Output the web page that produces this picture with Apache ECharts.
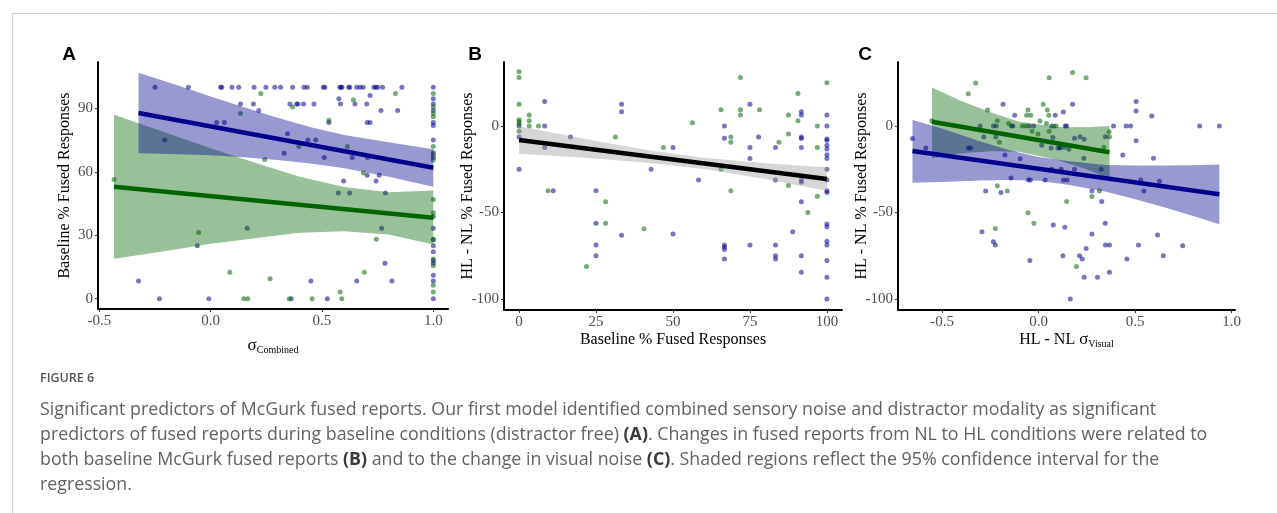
<!DOCTYPE html>
<html>
<head>
<meta charset="utf-8">
<script src="https://cdn.jsdelivr.net/npm/echarts@6/dist/echarts.min.js"></script>
<style>
  html, body { margin: 0; padding: 0; background: #fff; }
  #chart { width: 1277px; height: 513px; }
</style>
</head>
<body>
<div id="chart"></div>
<script>
// ---------- panel A : baseline % fused vs sigma combined ----------
const aBlue = [
  [-0.25,100],[-0.10,100],[0.045,100],[0.05,100],[0.096,100],[0.126,100],[0.195,100],[0.248,100],
  [0.288,100],[0.314,100],[0.368,100],[0.419,100],[0.434,100],[0.506,100],[0.513,100],[0.58,100],
  [0.585,100],[0.59,100],[0.62,100],[0.625,100],[0.656,100],[0.671,100],[0.685,100],[0.733,100],
  [0.742,100],[0.75,100],[0.772,100],[0.859,100],
  [0.134,92],[0.192,92],[0.356,92],[0.386,92],[0.392,92],[0.417,92],[0.464,92],[0.583,92],[0.648,92],[0.701,92],
  [0.216,89],[0.765,89],[0.84,89],[0.576,94.5],[0.716,96],
  [0.027,83.3],[0.062,83.3],[0.531,83.3],[0.703,83.3],[0.716,83.3],
  [-0.206,75],[0.345,78],[0.437,75],[0.472,75],
  [0.33,68.8],[0.51,66.7],[0.636,66.7],[0.705,66.7],
  [0.703,58.3],[0.757,58.3],[0.597,55.6],[0.743,55.6],
  [0.573,50],[0.624,50],[0.785,50],[0.164,33.3],[0.768,33.3],
  [-0.06,25],[0.783,16.7],[-0.324,8.3],[0.45,8.3],[0.656,8.3],[0.814,8.3],
  [-0.23,0],[-0.008,0],[0.362,0],[0.524,0],
  [1,100],[1,94.5],[1,92],[1,89],[1,83.3],[1,81.9],[1,75],[1,69],[1,66.7],[1,38.9],[1,33.3],
  [1,27.8],[1,25],[1,22.2],[1,18],[1,16.7],[1,11.1],[1,8.3],[1,0]
];
const aGreen = [
  [-0.434,56.3],[0.225,97],[0.134,87.5],[0.243,65.8],[-0.054,31.3],[0.086,12.5],[0.267,9.4],
  [0.149,0],[0.167,0],[0.83,97],[0.368,90.6],[0.641,94],[0.531,84.4],[0.396,71.9],[0.614,71.9],
  [0.686,59.4],[0.744,28.1],[0.69,12.5],[0.582,3.1],[0.353,0],[0.456,0],[0.589,0],
  [1,97],[1,90.6],[1,87.5],[1,86],[1,71.9],[1,68],[1,65.6],[1,46.9],[1,40.6],[1,28.1],
  [1,18.8],[1,15.6],[1,6.3],[1,3.1]
];
const aBlueFit = [[-0.324,87.8],[1.0,61.9]];
const aGreenFit = [[-0.434,52.9],[1.0,38.3]];
const aBlueBandX  = [-0.324,-0.15,0,0.15,0.3,0.45,0.6,0.8,1.0];
const aBlueBandHi = [106.8,100.9,95.6,90.5,85.5,81.0,77.4,73.9,70.6];
const aBlueBandLo = [68.8,68.3,67.8,66.9,65.6,63.9,61.6,57.6,52.9];
const aGreenBandX  = [-0.434,-0.2,0,0.2,0.4,0.6,0.8,1.0];
const aGreenBandHi = [86.9,78.5,71.1,64.2,57.6,52.8,50.3,51.1];
const aGreenBandLo = [18.9,22.5,25.9,28.6,31.2,31.9,30.3,25.6];

// ---------- panel B : change vs baseline ----------
const bBlue = [
  [0,0],[0,-6.3],[0,-25],[8.3,14.1],[8.3,0],[8.3,-12.5],[16.7,-6.3],[33.3,12.5],[33.3,8.3],
  [11.1,-37.5],[25,-37.5],[25,-56.3],[33.3,-63.2],[25,-68.8],[25,-75],[42.9,-25],[50,-12.5],[50,-62.5],
  [75,12.5],[91.7,8.3],[91.7,6.3],[66.7,0],[66.7,-7.1],[77.8,-6.3],[91.7,-6.3],[91.7,-7.3],
  [100,6.3],[100,0],[100,-7.5],[100,-8.3],[100,-11.1],[100,-13.3],[100,-16.7],[100,-18.8],
  [75,-12.5],[83.3,-12.5],[91.7,-12.5],[75,-18.8],[100,-25],[58.3,-31.3],[83.3,-31.3],[91.7,-31.3],
  [91.7,-32.5],[100,-31.3],[100,-37.5],[100,-38.5],[91.7,-43.8],[88.9,-61.1],[100,-56.7],[100,-58.3],
  [66.7,-68.8],[66.7,-70],[66.7,-71.4],[75,-68.8],[83.3,-68.8],[83.3,-75],[83.3,-76.9],[66.7,-76.9],
  [91.7,-75],[100,-66.7],[100,-68.8],[100,-77.8],[91.7,-84.6],[100,-87.5],[100,-100]
];
const bGreen = [
  [0,31.3],[0,28.1],[0,12.5],[0,3.6],[0,2.4],[0,1.2],[0,-3.1],[3.3,6.3],[3.3,3.1],[3.3,0],[6.3,0],
  [31.3,-6.3],[9.4,-37.5],[28.1,-43.8],[28.1,-56.3],[40.6,-59.4],[21.9,-81.3],[46.9,-12.5],
  [71.9,28.1],[100,25],[90.6,18.8],[65.6,9.4],[71.9,9.4],[78.1,9.4],[71.9,6.3],[87.5,6.3],[90.6,3.1],
  [56.3,1.9],[68.8,-6.3],[68.8,-9.4],[87.5,-4.7],[84.4,-9.4],[96.9,0],[96.9,-12.5],[65.6,-25],
  [68.8,-37.5],[87.5,-34.4],[96.9,-40.6],[93.8,-50]
];
const bFit = [[0,-8.1],[100,-30.6]];
const bBandX  = [0,20,40,60,80,100];
const bBandHi = [-0.2,-7.0,-13.4,-18.3,-21.5,-23.8];
const bBandLo = [-16.0,-18.2,-20.9,-24.9,-30.7,-37.4];

// ---------- panel C : change vs change in visual sigma ----------
const cBlue = [
  [-0.653,-7.3],[-0.584,-12.7],[-0.184,12.5],[-0.124,6.2],[0.086,6.2],[0.128,8.1],[-0.303,0],
  [-0.234,0],[-0.219,0],[-0.141,0],[-0.133,0],[-0.05,0],[-0.026,0],[0.067,0],[0.138,0],[0.145,0],
  [-0.284,-6.4],[-0.222,-6.4],[-0.364,-12.7],[-0.352,-12.7],[-0.174,-16.8],[-0.095,-18.9],
  [0.016,-11.2],[0.065,-12.7],[0.1,-12.7],[0.112,-12.7],[0.074,-6.7],[-0.143,-30.1],[-0.053,-31.2],
  [-0.043,-31.2],[0.034,-31.2],[-0.274,-37.6],[-0.195,-38.5],[0.076,-57.2],[0.136,-58.6],
  [-0.293,-61.1],[-0.234,-66.9],[-0.224,-68.8],[0.126,-75],[-0.045,-77.8],[0.164,-100],
  [0.834,0],[0.936,0],[0.453,0],[0.476,0],[0.388,0],[0.586,5.8],[0.505,14.1],[0.505,8.7],
  [0.505,-8.5],[0.436,-16.8],[0.595,-18.7],[0.529,-31.2],[0.545,-37.6],[0.626,-32],[0.616,-63],
  [0.646,-75],[0.746,-69.2],[0.457,-76.9],[0.517,-68.8],[0.346,-68.8],[0.367,-68.8],[0.345,-56.3],
  [0.327,-43.7],[0.276,-37.6],[0.276,-62.4],[0.367,-84.6],[0.305,-87.5],[0.236,-87.5],[0.246,-70.9],
  [0.212,-75.1],[0.226,-76.9],[0.129,-31.2],[0.148,-31.2],[0.324,-25],[0.186,-25],[0.234,-18.7],
  [0.346,-6.2],[0.236,-7.7],[0.215,-6.2],[0.186,-7.1],[0.176,12.5],[0.157,-13.5],[0.134,-12.3],
  [0.109,-12.3],[0.117,-25],[0.067,-25]
];
const cGreen = [
  [-0.326,24.9],[-0.364,18.7],[0.055,27.9],[-0.553,3.1],[-0.264,9.2],[-0.055,9.2],[0.024,12.5],
  [0.045,9.2],[-0.062,6.2],[-0.041,6.2],[0.053,6.2],[-0.214,3.1],[-0.155,1.5],[0.007,2.9],[0.041,1.5],
  [-0.084,0],[-0.067,0],[0.079,0],[0.091,0],[-0.034,-3.1],[-0.003,-4.6],[0.055,-3.1],[-0.203,-9.4],
  [-0.214,-34.5],[-0.162,-37.6],[-0.055,-50.1],[-0.024,-56.3],[-0.224,-59.3],[0.145,-43.7],
  [0.276,-40.8],[0.315,-37.6],[0.196,-81.3],[0.176,31],[0.246,27.9],[0.367,-6.2],[0.365,-3.3],[0.338,-12.3]
];
const cGreenFit = [[-0.552,2.5],[0.367,-15.2]];
const cBlueFit = [[-0.653,-14.5],[0.936,-39.5]];
const cGreenBandX  = [-0.552,-0.4,-0.25,-0.1,0.1,0.25,0.367];
const cGreenBandHi = [22.2,14.5,8.0,2.5,-0.6,-0.8,0];
const cGreenBandLo = [-18.7,-15.8,-14.6,-14.9,-19.6,-25.2,-30.4];
const cBlueBandX  = [-0.653,-0.5,-0.3,-0.15,0,0.15,0.35,0.5,0.65,0.8,0.936];
const cBlueBandHi = [3.5,-1.4,-9,-14,-18,-20.3,-22.5,-22.8,-22.9,-22.7,-22.2];
const cBlueBandLo = [-32.8,-32.4,-31.5,-31.3,-31.6,-34,-38,-42.4,-47,-52.1,-56.8];

// tick labels
const sigmaTicks = [-0.5, 0, 0.5, 1];
const aYTicks = [0, 30, 60, 90];
const bXTicks = [0, 25, 50, 75, 100];
const diffTicks = [-100, -50, 0];

const captionLines = [
  'Significant predictors of McGurk fused reports. Our first model identified combined sensory noise and distractor modality as significant',
  'predictors of fused reports during baseline conditions (distractor free) {b|(A)}. Changes in fused reports from NL to HL conditions were related to',
  'both baseline McGurk fused reports {b|(B)} and to the change in visual noise {b|(C)}. Shaded regions reflect the 95% confidence interval for the',
  'regression.'
];

const SERIF = 'Liberation Serif';
const BLUE_PT = 'rgba(0,0,139,0.68)', GREEN_PT = 'rgba(0,100,0,0.68)';
const BLUE_BAND = 'rgba(0,0,139,0.4)', GREEN_BAND = 'rgba(0,100,0,0.4)', GREY_BAND = 'rgba(153,153,153,0.4)';

const chart = echarts.init(document.getElementById('chart'));

const subRich = {
  t: { fontFamily: SERIF, fontSize: 16, color: '#000' },
  s: { fontFamily: SERIF, fontSize: 17, color: '#000' },
  sub: { fontFamily: SERIF, fontSize: 10, color: '#000', padding: [9, 0, 0, 0] }
};

function xAx(grid, min, max, ticks, fmt, name, gap) {
  return {
    type: 'value', gridIndex: grid, min: min, max: max,
    name: name, nameLocation: 'middle', nameGap: gap, nameMoveOverlap: false,
    nameTextStyle: { fontFamily: SERIF, fontSize: 16, color: '#000', rich: subRich },
    axisLine: { show: true, onZero: false, lineStyle: { color: '#000', width: 2 } },
    axisTick: { show: true, length: 3, customValues: ticks, lineStyle: { color: '#333' } },
    axisLabel: { customValues: ticks, formatter: fmt, fontFamily: SERIF, fontSize: 15, color: '#4d4d4d', margin: 5 },
    splitLine: { show: false }
  };
}
function yAx(grid, min, max, ticks, name, gap) {
  return {
    type: 'value', gridIndex: grid, min: min, max: max,
    name: name, nameLocation: 'middle', nameGap: gap, nameMoveOverlap: false,
    nameTextStyle: { fontFamily: SERIF, fontSize: 16, color: '#000' },
    axisLine: { show: true, onZero: false, lineStyle: { color: '#000', width: 2 } },
    axisTick: { show: true, length: 3, customValues: ticks, lineStyle: { color: '#333' } },
    axisLabel: { customValues: ticks, formatter: v => String(v), fontFamily: SERIF, fontSize: 15, color: '#4d4d4d', margin: 5 },
    splitLine: { show: false }
  };
}

function pts(grid, data, color) {
  return { type: 'scatter', xAxisIndex: grid, yAxisIndex: grid, data: data, symbolSize: 5,
           itemStyle: { color: color }, z: 2, silent: true };
}
function fit(grid, data, color, z) {
  return { type: 'line', xAxisIndex: grid, yAxisIndex: grid, data: data, symbol: 'none',
           lineStyle: { color: color, width: 4.5, cap: 'butt' }, z: z, silent: true };
}
function band(grid, xs, lo, hi, color, z) {
  const rows = xs.map((x, i) => [x, lo[i], hi[i]]);
  return {
    type: 'custom', xAxisIndex: grid, yAxisIndex: grid, data: rows, encode: { x: 0, y: [1, 2] },
    z: z, silent: true,
    renderItem: function (params, api) {
      if (params.dataIndex !== 0) return;
      const top = rows.map(r => api.coord([r[0], r[2]]));
      const bot = rows.slice().reverse().map(r => api.coord([r[0], r[1]]));
      return { type: 'polygon', shape: { points: top.concat(bot) }, style: { fill: color } };
    }
  };
}

const f1 = v => v.toFixed(1);

chart.setOption({
  animation: false,
  grid: [
    { left: 98, top: 62, width: 350, height: 247, outerBoundsMode: 'none' },
    { left: 504, top: 62, width: 338, height: 248, outerBoundsMode: 'none' },
    { left: 898, top: 62, width: 337, height: 248, outerBoundsMode: 'none' }
  ],
  xAxis: [
    xAx(0, -0.506, 1.066, sigmaTicks, f1, '{s|σ}{sub|Combined}', 27),
    xAx(1, -4.9, 104.9, bXTicks, v => String(v), 'Baseline % Fused Responses', 22),
    xAx(2, -0.728, 1.017, sigmaTicks, f1, '{t|HL - NL }{s|σ}{sub|Visual}', 20)
  ],
  yAxis: [
    yAx(0, -4.9, 111.9, aYTicks, 'Baseline % Fused Responses', 25),
    yAx(1, -106.4, 37, diffTicks, 'HL - NL % Fused Responses', 28),
    yAx(2, -106.4, 37, diffTicks, 'HL - NL % Fused Responses', 28)
  ],
  series: [
    pts(0, aBlue, BLUE_PT), pts(0, aGreen, GREEN_PT),
    band(0, aGreenBandX, aGreenBandLo, aGreenBandHi, GREEN_BAND, 3),
    fit(0, aGreenFit, '#006400', 4),
    band(0, aBlueBandX, aBlueBandLo, aBlueBandHi, BLUE_BAND, 5),
    fit(0, aBlueFit, '#00008B', 6),

    pts(1, bBlue, BLUE_PT), pts(1, bGreen, GREEN_PT),
    band(1, bBandX, bBandLo, bBandHi, GREY_BAND, 3),
    fit(1, bFit, '#000000', 4),

    pts(2, cBlue, BLUE_PT), pts(2, cGreen, GREEN_PT),
    band(2, cGreenBandX, cGreenBandLo, cGreenBandHi, GREEN_BAND, 3),
    fit(2, cGreenFit, '#006400', 4),
    band(2, cBlueBandX, cBlueBandLo, cBlueBandHi, BLUE_BAND, 5),
    fit(2, cBlueFit, '#00008B', 6)
  ],
  graphic: [
    { type: 'line', shape: { x1: 12, y1: 13.5, x2: 1277, y2: 13.5 }, style: { stroke: '#cccccc', lineWidth: 1 } },
    { type: 'line', shape: { x1: 12.5, y1: 13, x2: 12.5, y2: 513 }, style: { stroke: '#cccccc', lineWidth: 1 } },
    { type: 'text', x: 69, y: 55, style: { text: 'A', font: 'bold 19px "Liberation Sans"', fill: '#000', align: 'center', verticalAlign: 'middle' } },
    { type: 'text', x: 475, y: 55, style: { text: 'B', font: 'bold 19px "Liberation Sans"', fill: '#000', align: 'center', verticalAlign: 'middle' } },
    { type: 'text', x: 865, y: 55, style: { text: 'C', font: 'bold 19px "Liberation Sans"', fill: '#000', align: 'center', verticalAlign: 'middle' } },
    { type: 'text', x: 40, y: 378, style: { text: 'FIGURE 6', font: '600 12.5px "Open Sans"', fill: '#555', verticalAlign: 'middle' } },
    { type: 'text', x: 40, y: 397.5, style: {
        text: captionLines.join('\n'), fontFamily: 'Open Sans', fontSize: 17.8, lineHeight: 25,
        fill: '#626262', verticalAlign: 'top',
        rich: { b: { fontFamily: 'Open Sans', fontSize: 17.8, fontWeight: 'bold', fill: '#3a3a3a', lineHeight: 25 } }
    } }
  ]
});
</script>
</body>
</html>
